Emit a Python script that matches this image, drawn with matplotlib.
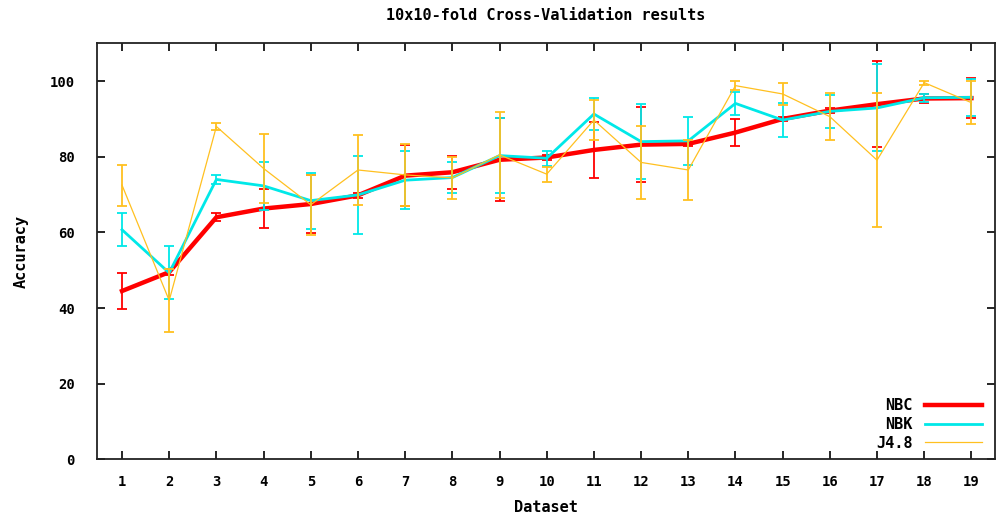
#! /usr/bin/python
# coding: utf-8

import numpy as np
import matplotlib
matplotlib.use('Agg')
import matplotlib.pyplot as plt
from matplotlib.lines import Line2D

#--- data
datasets = list(range(1, 20))

nbc     = [44.5, 49.5, 64.0, 66.3, 67.5, 69.8, 75.0, 75.9, 79.2, 79.8, 81.8, 83.2, 83.4, 86.4, 90.0, 92.2, 93.9, 95.4, 95.5]
nbc_err = [4.8, 0.8, 1.0, 5.2, 7.7, 0.6, 8.0, 4.3, 11.0, 0.6, 7.4, 10.0, 0.6, 3.6, 0.6, 0.6, 11.3, 1.2, 5.2]

nbk     = [60.7, 49.3, 74.0, 72.3, 68.4, 69.9, 73.8, 74.5, 80.3, 79.6, 91.3, 84.0, 84.2, 94.1, 89.7, 92.0, 92.9, 95.6, 95.7]
nbk_err = [4.3, 7.0, 1.3, 6.3, 7.4, 10.3, 7.7, 4.0, 10.0, 2.0, 4.3, 9.9, 6.3, 3.0, 4.5, 4.4, 11.5, 1.0, 4.9]

j48     = [72.5, 42.0, 88.0, 76.9, 67.3, 76.5, 75.2, 74.4, 80.5, 75.4, 89.7, 78.5, 76.5, 98.8, 96.6, 90.6, 79.1, 99.6, 94.3]
j48_err = [5.4, 8.3, 1.0, 9.2, 8.0, 9.2, 8.2, 5.5, 11.3, 2.0, 5.3, 9.6, 7.9, 1.2, 2.8, 6.2, 17.7, 0.5, 5.7]

names  = ['NBC', 'NBK', 'J4.8']
colors = ['#ff0000', '#00e8e8', '#ffc020']
widths = [3.2, 2.0, 0.9]

#--- figure
font = 'DejaVu Sans Mono'
fig = plt.figure(figsize=(9.97, 5.19), dpi=100)
ax = fig.add_axes([0.0973, 0.115, 0.9007, 0.8016])

series = [(nbc, nbc_err), (nbk, nbk_err), (j48, j48_err)]
for i, (y, e) in enumerate(series):
    ax.errorbar(datasets, y, yerr=e, color=colors[i], lw=widths[i], elinewidth=1.3,
                capsize=3.3, capthick=1.3, zorder=2 + i)

ax.set_xlim(0.47, 19.5)
ax.set_ylim(0, 110)
ax.set_xticks(datasets)
ax.set_yticks([0, 20, 40, 60, 80, 100])
ax.tick_params(direction='in', length=6, width=1.2, top=True, right=True,
               labelsize=10)
ax.tick_params(axis='x', pad=11)
ax.tick_params(axis='y', pad=16)
for lab in ax.get_xticklabels() + ax.get_yticklabels():
    lab.set_fontfamily(font)
    lab.set_fontweight('bold')
for sp in ax.spines.values():
    sp.set_linewidth(1.3)
    sp.set_color('#222222')

ax.set_title('10x10-fold Cross-Validation results', fontfamily=font,
             fontweight='bold', fontsize=11, pad=17)
ax.set_xlabel('Dataset', fontfamily=font, fontweight='bold', fontsize=11, labelpad=8)
ax.set_ylabel('Accuracy', fontfamily=font, fontweight='bold', fontsize=11, labelpad=15)

#--- legend (text first, then sample)
handles = [Line2D([], [], color=colors[i], lw=widths[i]) for i in range(3)]
leg = ax.legend(handles, names, loc='lower right', markerfirst=False, frameon=False,
                prop={'family': font, 'weight': 'bold', 'size': 11},
                handlelength=3.7, labelspacing=0.25, borderaxespad=0.6,
                bbox_to_anchor=(1.002, -0.016))

fig.savefig('out.png', dpi=100)
plt.close()
